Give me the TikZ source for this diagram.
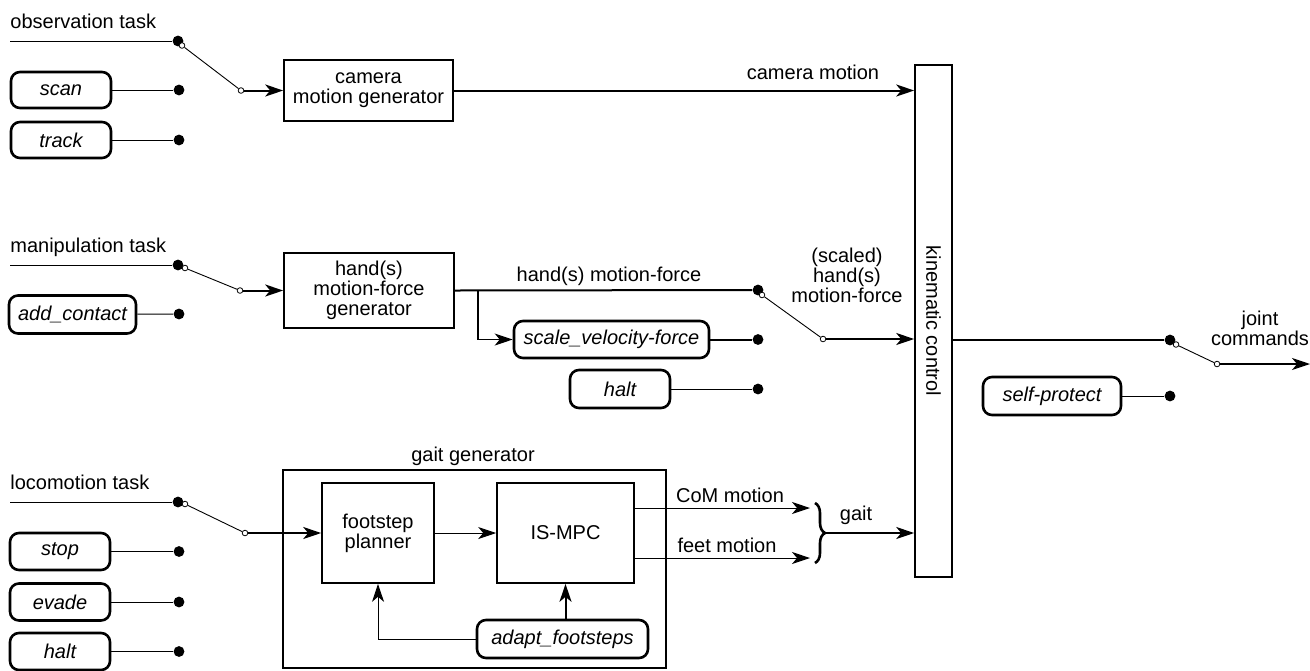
\documentclass[tikz,border=0pt]{standalone}
\usepackage{fontspec}
\setmainfont{Liberation Sans}
\usetikzlibrary{arrows.meta,decorations.pathreplacing}
\begin{document}
\begin{tikzpicture}[x=0.5pt,y=-0.5pt,
 font=\fontsize{10}{10}\selectfont,
 blk/.style={draw, line width=0.8pt, align=center, inner sep=0pt},
 cmd/.style={draw, line width=1.3pt, rounded corners=4.5pt, font=\fontsize{10}{10}\selectfont\itshape, inner sep=0pt},
 dot/.style={circle, fill, inner sep=0pt, minimum size=5.4pt},
 odot/.style={circle, draw, fill=white, inner sep=0pt, minimum size=2.8pt, line width=0.4pt},
 thn/.style={line width=0.5pt},
 thk/.style={line width=1pt},
 arr/.style={-{Stealth[length=9pt,width=6pt,inset=2.5pt]}},
 lbl/.style={align=center, inner sep=0pt},
]
\useasboundingbox (0,0) rectangle (1310,670);

% ---------- blocks ----------
\node[blk, minimum width=84.5pt, minimum height=30.5pt] (cam) at (368.5,90.5) {camera\\motion generator};
\node[blk, minimum width=85pt, minimum height=37.5pt] (hand) at (369,290.5) {hand(s)\\motion-force\\generator};
\node[blk, minimum width=18.5pt, minimum height=256pt] (kin) at (933.5,321) {};
\node[rotate=-90, inner sep=0pt] (kinlbl) at (kin.center) {kinematic control};
\node[blk, minimum width=191.5pt, minimum height=99pt] (gaitbox) at (474.5,569) {};
\node[lbl] (gaitlbl) at (473,456) {gait generator};
\node[blk, minimum width=56pt, minimum height=50pt] (foot) at (378,533) {footstep\\planner};
\node[blk, minimum width=68.5pt, minimum height=50pt] (mpc) at (565.5,533) {IS-MPC};

% ---------- command boxes ----------
\node[cmd, minimum width=50pt, minimum height=18pt] (scan) at (61,90) {scan};
\node[cmd, minimum width=50pt, minimum height=18pt] (track) at (61,140) {track};
\node[cmd, minimum width=63.5pt, minimum height=19pt] (addc) at (72.5,314.5) {add\_contact};
\node[cmd, minimum width=97.5pt, minimum height=18.5pt] (scale) at (611.5,339.5) {scale\_velocity-force};
\node[cmd, minimum width=50pt, minimum height=19pt] (halta) at (620,389) {halt};
\node[cmd, minimum width=69pt, minimum height=19pt] (selfp) at (1052,396) {self-protect};
\node[cmd, minimum width=50pt, minimum height=18.5pt] (stop) at (60,551.5) {stop};
\node[cmd, minimum width=50pt, minimum height=18.5pt] (evade) at (60,602) {evade};
\node[cmd, minimum width=50pt, minimum height=18.5pt] (haltb) at (60,651.5) {halt};
\node[cmd, minimum width=85.5pt, minimum height=19pt] (adapt) at (562.5,639) {adapt\_footsteps};

% ---------- task labels and input lines ----------
\node[anchor=base west, inner sep=0pt] (obs) at (10,28) {observation task};
\node[anchor=base west, inner sep=0pt] (man) at (10,252) {manipulation task};
\node[anchor=base west, inner sep=0pt] (loc) at (10,489) {locomotion task};
\coordinate (obsS) at (10,41);
\coordinate (manS) at (10,265);
\coordinate (locS) at (10,502);

% ---------- switch contacts ----------
\node[dot] (d1) at (178,41) {};
\node[dot] (d2) at (179,90) {};
\node[dot] (d3) at (179,140) {};
\node[dot] (d4) at (178,265) {};
\node[dot] (d5) at (179,314) {};
\node[dot] (d6) at (758,290) {};
\node[dot] (d7) at (758,339.5) {};
\node[dot] (d8) at (758,389) {};
\node[dot] (d9) at (1170,340) {};
\node[dot] (d10) at (1170,396) {};
\node[dot] (d11) at (178,502) {};
\node[dot] (d12) at (179,551.5) {};
\node[dot] (d13) at (179,602) {};
\node[dot] (d14) at (179,651.5) {};

% wires into contacts
\draw[thn] (obsS) -- (d1);
\draw[thn] (scan) -- (d2);
\draw[thn] (track) -- (d3);
\draw[thn] (manS) -- (d4);
\draw[thn] (addc) -- (d5);
\draw[thk] (scale) -- (d7);
\draw[thn] (halta) -- (d8);
\draw[thn] (selfp) -- (d10);
\draw[thn] (locS) -- (d11);
\draw[thn] (stop) -- (d12);
\draw[thn] (evade) -- (d13);
\draw[thn] (haltb) -- (d14);
\draw[line width=0.6pt] (kin.east |- d9) -- (d9);

% switches
\node[odot] (o1a) at (182,45.5) {};
\node[odot] (o1b) at (241,90.5) {};
\node[odot] (o2a) at (185,268) {};
\node[odot] (o2b) at (240,290.5) {};
\node[odot] (o3a) at (185,504) {};
\node[odot] (o3b) at (245,533) {};
\node[odot] (o4a) at (762,295) {};
\node[odot] (o4b) at (823,339) {};
\node[odot] (o5a) at (1176,344.5) {};
\node[odot] (o5b) at (1217,364) {};
\draw[line width=0.45pt] (o1a) -- (o1b);
\draw[line width=0.45pt] (o2a) -- (o2b);
\draw[line width=0.45pt] (o3a) -- (o3b);
\draw[line width=0.45pt] (o4a) -- (o4b);
\draw[line width=0.45pt] (o5a) -- (o5b);

% switch outputs
\draw[thk, arr] (o1b) -- (o1b -| cam.west);
\draw[thk, arr] (o2b) -- (o2b -| hand.west);
\draw[thk, arr] (o3b) -- (o3b -| foot.west);
\draw[thk, arr] (o4b) -- (o4b -| kin.west);
\coordinate (jout) at (1310,364);
\draw[line width=0.6pt, arr] (o5b) -- (jout);

% ---------- main signal lines ----------
\draw[thk, arr] (cam.east) -- (cam.east -| kin.west);
\node[lbl] (camlbl) at (813,72) {camera motion};
\draw[thk] (hand.east) -- (d6);
\node[lbl] (handlbl) at (609,276) {hand(s) motion-force};
\coordinate (br) at (478,290.5);
\draw[line width=0.55pt, arr] (br) |- (scale.west);
\node[lbl] (scaledlbl) at (847,275) {(scaled)\\hand(s)\\motion-force};
\node[lbl] (jointlbl) at (1260,328) {joint\\commands};

% ---------- gait ----------
\draw[thn, arr] (foot.east) -- (mpc.west);
\coordinate (comE) at (810,508);
\coordinate (feetE) at (810,558);
\draw[thn, arr] (mpc.east |- comE) -- (comE);
\draw[thn, arr] (mpc.east |- feetE) -- (feetE);
\node[lbl] (comlbl) at (730,495) {CoM motion};
\node[lbl] (feetlbl) at (727,545) {feet motion};
\draw[line width=1.3pt, decorate, decoration={brace, amplitude=5pt}] (815,503) -- (815,563);
\coordinate (brtip) at (825,533);
\draw[thk, arr] (brtip) -- (brtip -| kin.west);
\node[lbl] (gaitl) at (856,515) {gait};
\draw[thk, arr] (adapt.north -| mpc.south) -- (mpc.south);
\draw[thn, arr] (adapt.west) -| (foot.south);
\end{tikzpicture}
\end{document}
